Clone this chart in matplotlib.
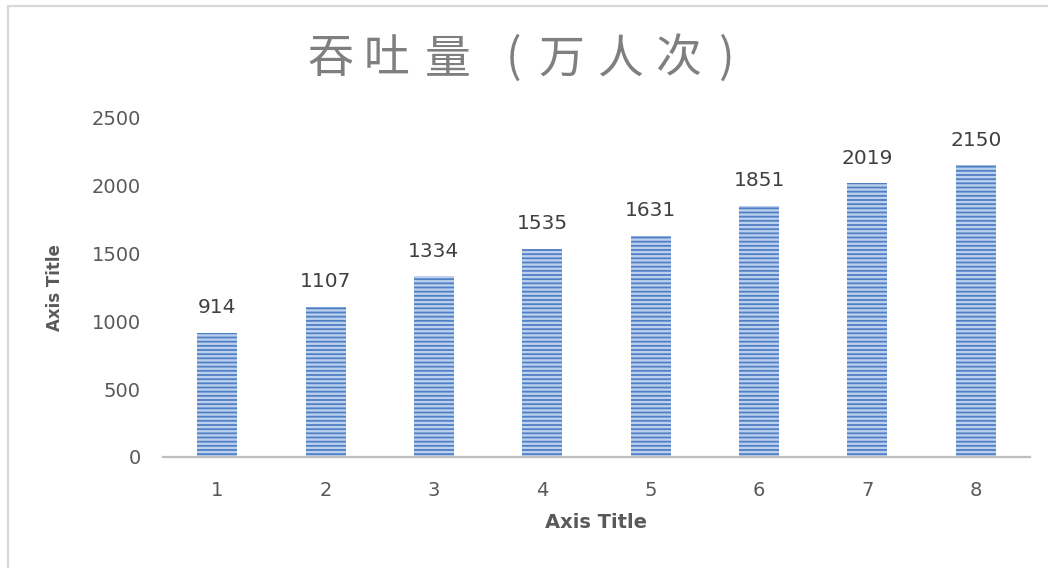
import matplotlib
matplotlib.use("Agg")
import matplotlib.pyplot as plt
from matplotlib.patches import Rectangle

categories = ["1", "2", "3", "4", "5", "6", "7", "8"]
values = [914, 1107, 1334, 1535, 1631, 1851, 2019, 2150]
yticks = [0, 500, 1000, 1500, 2000, 2500]
title = "吞吐量(万人次)"
axis_title = "Axis Title"

plt.rcParams['font.family'] = ['DejaVu Sans']
plt.rcParams['hatch.linewidth'] = 1.7

fig = plt.figure(figsize=(10.48, 5.68), dpi=100)
fig.patch.set_facecolor('white')

# chart border (only top/left visible)
fig.add_artist(Rectangle((8/1048, -0.1), 1.2, 1.1 - 6/568, transform=fig.transFigure,
                         fill=False, edgecolor='#d9d9d9', linewidth=1.6))

ax = fig.add_axes([163/1048, 1-457/568, (1030-163)/1048, (457-118)/568])
x = list(range(len(categories)))
bars = ax.bar(x, values, width=0.37, facecolor='#4f7fc5', edgecolor='#bcd0ee',
              linewidth=0, hatch='----', zorder=2)
for b in bars:
    b.set_linewidth(0)

for xi, v in zip(x, values):
    ax.text(xi, v + 115, f"{v}", ha='center', va='bottom', fontsize=14.5, color='#404040')

ax.set_xlim(-0.5, len(categories) - 0.5)
ax.set_ylim(0, 2500)
ax.set_yticks(yticks)
ax.set_yticklabels([str(t) for t in yticks])
ax.set_xticks(x)
ax.set_xticklabels(categories)
ax.tick_params(axis='both', length=0, labelsize=14, colors='#595959')
ax.tick_params(axis='y', pad=16)
ax.tick_params(axis='x', pad=17)
for s in ['top', 'right', 'left']:
    ax.spines[s].set_visible(False)
ax.spines['bottom'].set_color('#bfbfbf')
ax.spines['bottom'].set_linewidth(1.6)
ax.spines['bottom'].set_zorder(3)

ax.set_xlabel(axis_title, fontsize=14, fontweight='bold', color='#595959', labelpad=10)
ax.set_ylabel(axis_title, fontsize=12, fontweight='bold', color='#595959', labelpad=20)

# title with wide letter spacing (ink centres)
centers = [330, 387, 448, 513, 561, 620, 678, 726]
for cx, ch in zip(centers, title):
    fig.text(cx / 1048, 1 - 59/568, ch, ha='center', va='center',
             fontsize=33, color='#7f7f7f', family=['Noto Sans CJK SC', 'DejaVu Sans'])

fig.savefig('out.png', dpi=100, facecolor='white')
